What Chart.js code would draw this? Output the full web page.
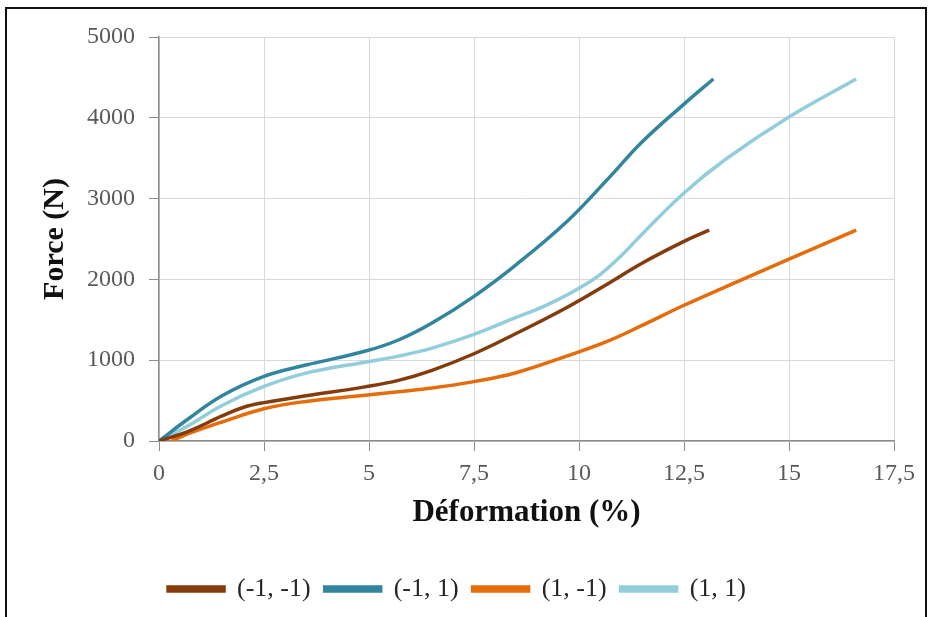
<!DOCTYPE html>
<html>
<head>
<meta charset="utf-8">
<script src="https://cdn.jsdelivr.net/npm/chart.js@4"></script>
<style>
  html, body { margin: 0; padding: 0; background: #fff; overflow: hidden; }
  .frame { position: absolute; left: 5px; top: 7px; width: 918px; height: 700px; border: 2px solid #111; }
  .chart-wrapper { position: absolute; left: 0; top: 0; width: 934px; height: 617px; }
</style>
</head>
<body>
<div class="frame"></div>
<div class="chart-wrapper"><canvas id="force-chart" width="934" height="617"></canvas></div>
<script>
// axis ticks
const xTicks = [0, 2.5, 5, 7.5, 10, 12.5, 15, 17.5];
const yTicks = [0, 1000, 2000, 3000, 4000, 5000];

// series: deformation (%) / force (N)
const labels = ['(-1, -1)', '(-1, 1)', '(1, -1)', '(1, 1)'];

const strainMM = [0, 0.7, 1.5, 2, 2.5, 3.5, 4.9, 5.7, 6.5, 7.5, 8.5, 9.7, 10.7, 11.5, 12.5, 13.1];
const forceMM  = [0, 120, 310, 415, 475, 560, 670, 750, 875, 1080, 1330, 1650, 1950, 2200, 2470, 2610];

const strainMP = [0, 0.7, 1.5, 2.5, 3.5, 4.9, 5.7, 6.5, 7.5, 8.5, 9.7, 10.7, 11.5, 12.5, 13.2];
const forceMP  = [0, 275, 560, 800, 940, 1110, 1250, 1460, 1790, 2180, 2710, 3250, 3700, 4170, 4480];

const strainPM = [0.3, 0.7, 1.5, 2.5, 3.5, 4.9, 5.7, 6.5, 7.5, 8.5, 9.7, 10.7, 11.5, 12.5, 13.5, 15, 16.6];
const forcePM  = [0, 90, 235, 400, 490, 565, 610, 655, 735, 845, 1050, 1240, 1430, 1680, 1910, 2250, 2610];

const strainPP = [0, 0.7, 1.5, 2.5, 3.5, 4.9, 5.7, 6.5, 7.5, 8.5, 9, 9.5, 10, 10.5, 11, 11.5, 12.5, 13.5, 15, 16.6];
const forcePP  = [0, 190, 440, 675, 840, 975, 1050, 1150, 1320, 1530, 1630, 1750, 1890, 2060, 2290, 2560, 3070, 3490, 4010, 4480];

const colors = ['#843C0C', '#31859C', '#E46C0A', '#92CDDC'];

const pairs = (xs, ys) => xs.map((x, i) => ({ x, y: ys[i] }));
const series = [
  pairs(strainMM, forceMM),
  pairs(strainMP, forceMP),
  pairs(strainPM, forcePM),
  pairs(strainPP, forcePP),
];

const serif = '"Liberation Serif", "Times New Roman", serif';
const comma = v => String(v).replace('.', ',');

new Chart(document.getElementById('force-chart').getContext('2d'), {
  type: 'scatter',
  data: {
    datasets: series.map((d, i) => ({
      label: labels[i],
      data: d,
      showLine: true,
      borderColor: colors[i],
      backgroundColor: colors[i],
      borderWidth: 3.5,
      pointRadius: 0,
      tension: 0.4,
      fill: false,
    })),
  },
  options: {
    responsive: false,
    animation: false,
    layout: { padding: { left: 20, right: 40, top: 37, bottom: 5 } },
    plugins: {
      tooltip: { enabled: false },
      legend: {
        position: 'bottom',
        labels: {
          boxWidth: 56,
          boxHeight: 4,
          padding: 14,
          color: '#262626',
          font: { family: serif, size: 26 },
        },
      },
    },
    scales: {
      x: {
        type: 'linear',
        min: 0,
        max: 17.5,
        afterBuildTicks: s => { s.ticks = xTicks.map(v => ({ value: v })); },
        afterFit: s => { s.height = 121; },
        ticks: { color: '#595959', font: { family: serif, size: 24 }, padding: 8, callback: v => comma(v), maxRotation: 0 },
        grid: { color: '#d9d9d9', tickColor: '#8c8c8c', tickLength: 10 },
        border: { color: '#8c8c8c', width: 1.5 },
        title: {
          display: true,
          text: 'Déformation (%)',
          color: '#111',
          font: { family: serif, size: 31, weight: 'bold' },
          padding: { top: 0, bottom: 30 },
        },
      },
      y: {
        min: 0,
        max: 5000,
        afterBuildTicks: s => { s.ticks = yTicks.map(v => ({ value: v })); },
        afterFit: s => { s.width = 139; },
        ticks: { color: '#595959', font: { family: serif, size: 24 }, padding: 14, callback: v => String(v) },
        grid: { color: '#d9d9d9', tickColor: '#8c8c8c', tickLength: 10 },
        border: { color: '#8c8c8c', width: 1.5 },
        title: {
          display: true,
          text: 'Force (N)',
          color: '#111',
          font: { family: serif, size: 30, weight: 'bold' },
          padding: { top: 17, bottom: 0 },
        },
      },
    },
  },
});
</script>
</body>
</html>
